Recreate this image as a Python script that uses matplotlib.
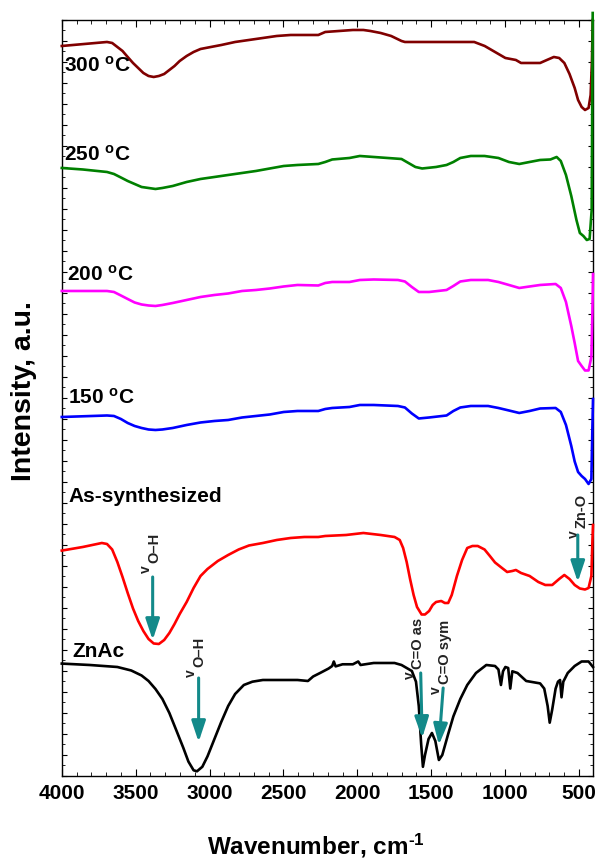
"""FTIR spectra of ZnAc, as-synthesized and annealed ZnO samples."""

import matplotlib

matplotlib.use("Agg")
import matplotlib.pyplot as plt
from matplotlib.ticker import MultipleLocator, NullFormatter

plt.rcParams["font.family"] = ["Liberation Sans", "DejaVu Sans"]
plt.rcParams["mathtext.fontset"] = "custom"
plt.rcParams["mathtext.rm"] = "Liberation Sans:bold"
plt.rcParams["mathtext.bf"] = "Liberation Sans:bold"
plt.rcParams["mathtext.it"] = "Liberation Sans:bold"

# ---- spectra (wavenumber in cm-1, intensity in a.u., offset as plotted) ----
wn_300 = [4000, 3694, 3659, 3624, 3589, 3554, 3518, 3483, 3448, 3413, 3378, 3343,
          3307, 3272, 3237, 3202, 3155, 3108, 3061, 2991, 2920, 2827, 2733, 2639,
          2545, 2451, 2358, 2264, 2217, 2123, 2030, 1959, 1912, 1842, 1771, 1701,
          1678, 1467, 1279, 1209, 1138, 1068, 998, 927, 892, 834, 763, 717, 670,
          634, 599, 564, 529, 506, 482, 459, 435, 421, 412, 407]
i_300 = [73.0, 73.4, 73.3, 72.9, 72.5, 71.9, 71.3, 70.8, 70.3, 70.0, 69.9, 70.0,
         70.2, 70.6, 71.0, 71.5, 72.0, 72.4, 72.7, 72.9, 73.1, 73.4, 73.6, 73.8,
         74.0, 74.1, 74.1, 74.1, 74.4, 74.5, 74.6, 74.6, 74.5, 74.3, 74.0, 73.5,
         73.4, 73.4, 73.4, 73.4, 73.0, 72.4, 71.8, 71.6, 71.3, 71.3, 71.3, 71.6, 71.9,
         71.8, 71.3, 70.2, 68.8, 67.6, 66.9, 66.6, 66.8, 68.1, 71.6, 75.6]

wn_250 = [4000, 3858, 3694, 3647, 3600, 3554, 3507, 3460, 3413, 3366, 3319, 3249,
          3155, 3061, 2967, 2874, 2780, 2686, 2592, 2498, 2405, 2264, 2217, 2170,
          2053, 1983, 1889, 1701, 1654, 1607, 1561, 1467, 1396, 1350, 1303, 1232,
          1139, 1045, 974, 904, 834, 763, 693, 651, 623, 588, 552, 517, 494, 470,
          447, 428, 414, 407]
i_250 = [60.8, 60.65, 60.4, 60.2, 59.85, 59.5, 59.2, 58.9, 58.8, 58.7, 58.8, 59.0,
         59.4, 59.7, 59.9, 60.1, 60.3, 60.5, 60.75, 61.0, 61.1, 61.2, 61.4, 61.65,
         61.8, 62.0, 61.9, 61.7, 61.3, 60.9, 60.75, 60.9, 61.1, 61.4, 61.8, 62.0,
         62.0, 61.8, 61.4, 61.2, 61.4, 61.6, 61.65, 61.9, 61.5, 60.1, 58.0, 55.6,
         54.3, 54.0, 53.6, 53.7, 56.6, 76.3]

wn_200 = [4000, 3694, 3647, 3600, 3554, 3507, 3460, 3413, 3366, 3319, 3249, 3155,
          3061, 2967, 2874, 2780, 2686, 2592, 2498, 2405, 2264, 2217, 2170, 2053,
          1983, 1889, 1725, 1678, 1631, 1584, 1514, 1396, 1350, 1303, 1232, 1115,
          1045, 974, 904, 834, 763, 658, 623, 588, 552, 529, 506, 482, 459, 435,
          416, 409, 405]
i_200 = [48.5, 48.5, 48.4, 48.05, 47.7, 47.35, 47.15, 47.05, 47.0, 47.1, 47.3, 47.6,
         47.9, 48.1, 48.25, 48.5, 48.6, 48.75, 48.95, 49.1, 49.05, 49.3, 49.4, 49.4,
         49.6, 49.65, 49.6, 49.45, 48.9, 48.4, 48.4, 48.6, 49.0, 49.45, 49.6, 49.6,
         49.4, 49.1, 48.8, 48.95, 49.1, 49.2, 48.8, 47.4, 45.0, 43.3, 41.5, 41.0,
         40.55, 40.55, 41.9, 46.4, 50.2]

wn_150 = [4000, 3694, 3647, 3600, 3554, 3507, 3460, 3413, 3366, 3319, 3249, 3155,
          3061, 2967, 2874, 2780, 2686, 2592, 2498, 2405, 2264, 2217, 2170, 2053,
          1983, 1889, 1725, 1678, 1631, 1584, 1514, 1396, 1350, 1303, 1232, 1115,
          1045, 974, 904, 834, 763, 658, 623, 588, 552, 529, 506, 482, 459, 435,
          416, 409, 405]
i_150 = [35.9, 36.05, 36.0, 35.7, 35.3, 35.0, 34.8, 34.65, 34.6, 34.65, 34.8, 35.1,
         35.35, 35.5, 35.6, 35.85, 36.0, 36.15, 36.4, 36.5, 36.5, 36.7, 36.8, 36.9,
         37.1, 37.1, 37.0, 36.85, 36.25, 35.75, 35.85, 36.05, 36.5, 36.85, 37.0, 37.0,
         36.8, 36.55, 36.3, 36.5, 36.75, 36.8, 36.4, 35.1, 33.0, 31.45, 30.4, 30.0,
         29.7, 29.2, 29.7, 34.9, 37.7]

wn_as = [4000, 3858, 3729, 3694, 3659, 3624, 3589, 3554, 3518, 3483, 3448, 3413,
         3378, 3343, 3307, 3272, 3237, 3202, 3155, 3108, 3061, 3014, 2944, 2874,
         2803, 2733, 2639, 2545, 2451, 2358, 2264, 2217, 2076, 1959, 1842, 1748,
         1713, 1690, 1666, 1643, 1619, 1596, 1565, 1542, 1514, 1490, 1467, 1432,
         1408, 1385, 1361, 1326, 1291, 1256, 1221, 1185, 1139, 1103, 1068, 1021,
         986, 951, 927, 892, 834, 775, 728, 681, 634, 599, 564, 529, 494, 459, 435,
         416, 409, 405]
i_as = [22.54, 22.9, 23.3, 23.2, 22.65, 21.4, 19.9, 18.3, 16.75, 15.5, 14.5, 13.7,
        13.25, 13.2, 13.6, 14.3, 15.2, 16.2, 17.4, 18.8, 20.0, 20.7, 21.5, 22.1,
        22.65, 23.05, 23.3, 23.6, 23.8, 23.9, 23.9, 24.0, 24.1, 24.3, 24.1, 23.9,
        23.6, 22.8, 21.4, 19.7, 18.1, 16.9, 16.15, 16.15, 16.5, 17.1, 17.4, 17.5,
        17.3, 17.3, 18.1, 20.0, 21.6, 22.8, 23.0, 23.0, 22.65, 22.0, 21.35, 20.8,
        20.4, 20.5, 20.6, 20.3, 20.0, 19.4, 19.1, 19.1, 19.7, 20.1, 19.7, 19.1,
        18.75, 18.65, 18.8, 20.0, 23.5, 25.1]

wn_znac = [4000, 3811, 3624, 3530, 3460, 3413, 3366, 3319, 3272, 3225, 3178, 3143,
           3108, 3085, 3049, 3014, 2967, 2921, 2874, 2827, 2768, 2710, 2639, 2498,
           2405, 2334, 2299, 2252, 2194, 2170, 2159, 2147, 2100, 2030, 1994, 1978,
           1889, 1748, 1701, 1666, 1631, 1603, 1584, 1568, 1556, 1542, 1518, 1495,
           1472, 1448, 1425, 1385, 1350, 1303, 1256, 1197, 1127, 1068, 1045, 1028,
           1014, 998, 979, 965, 951, 916, 857, 763, 735, 712, 698, 681, 658, 642,
           628, 618, 606, 576, 529, 482, 435, 405]
i_znac = [11.24, 11.1, 10.9, 10.55, 10.05, 9.5, 8.7, 7.7, 6.3, 4.57, 2.83, 1.44,
          0.57, 0.47, 0.92, 1.96, 3.7, 5.4, 7.0, 8.2, 9.1, 9.43, 9.6, 9.6,
          9.6, 9.5, 9.95, 10.3, 10.75, 11.0, 11.45, 10.96, 11.17, 11.17, 11.45, 11.1,
          11.3, 11.3, 11.1, 10.8, 10.5, 9.43, 7.0, 3.2, 0.92, 2.1, 3.7, 4.3,
          3.5, 1.6, 2.1, 4.2, 5.96, 7.7, 9.1, 10.3, 11.1, 11.0, 10.65, 9.1,
          10.47, 10.9, 10.8, 8.74, 10.47, 10.3, 9.5, 9.26, 8.74, 7.0, 5.33, 6.65, 8.74, 9.43,
          9.6, 7.87, 9.43, 10.3, 11.0, 11.45, 11.45, 10.9]

series = [
    (wn_300, i_300, "#800000", "300 $^{\\mathbf{o}}$C", 3985, 70.4),
    (wn_250, i_250, "#008000", "250 $^{\\mathbf{o}}$C", 3985, 61.5),
    (wn_200, i_200, "#ff00ff", "200 $^{\\mathbf{o}}$C", 3965, 49.5),
    (wn_150, i_150, "#0000ff", "150 $^{\\mathbf{o}}$C", 3958, 37.2),
    (wn_as, i_as, "#ff0000", "As-synthesized", 3958, 27.4),
    (wn_znac, i_znac, "#000000", "ZnAc", 3927, 11.9),
]

# band assignments: (v anchor wn, v anchor y, subscript, arrow wn start, y start, wn tip, y tip)
bands = [
    (3428, 20.3, "O–H", 3385, 19.9, 3385, 13.6),
    (3128, 9.9, "O–H", 3074, 9.8, 3074, 3.4),
    (1644, 9.7, "C=O as", 1571, 10.3, 1561, 3.8),
    (1465, 8.2, "C=O sym", 1419, 8.8, 1448, 3.1),
    (536, 23.8, "Zn-O", 508, 24.1, 508, 19.4),
]
TEAL = "#138a8a"

fig = plt.figure(figsize=(5.97, 8.65), dpi=100)
ax = fig.add_axes([0.1035, 0.1029, 0.8898, 0.874])

for wn, inten, color, label, lx, ly in series:
    ax.plot(wn, inten, color=color, lw=1.9, clip_on=False, zorder=3,
            solid_joinstyle="round")
    ax.text(lx, ly, label, fontsize=15, fontweight="bold", ha="left", va="baseline")

for vx, vy, sub, ax0, ay0, ax1, ay1 in bands:
    ax.annotate("", xy=(ax1, ay1), xytext=(ax0, ay0),
                arrowprops=dict(arrowstyle="-|>,head_length=0.9,head_width=0.3",
                                mutation_scale=14, lw=2.2, color=TEAL,
                                shrinkA=0, shrinkB=0), zorder=4)
    ax.annotate("v", (vx, vy), ha="center", va="bottom", rotation=90,
                fontsize=10, fontweight="bold", color="#222222")
    ax.annotate(sub, (vx, vy), xytext=(6, 7.5), textcoords="offset points",
                ha="center", va="bottom", rotation=90, fontsize=10.5,
                fontweight="bold", color="#222222")

ax.set_xlim(4000, 405)
ax.set_ylim(0, 75.6)
ax.xaxis.set_major_locator(MultipleLocator(500))
ax.xaxis.set_minor_locator(MultipleLocator(100))
ax.yaxis.set_major_locator(MultipleLocator(2.1))
ax.yaxis.set_minor_locator(MultipleLocator(1.05))
ax.yaxis.set_major_formatter(NullFormatter())
ax.tick_params(axis="x", which="both", direction="in", top=True, bottom=True,
               labelsize=15, pad=6)
ax.tick_params(axis="x", which="major", length=5)
ax.tick_params(axis="x", which="minor", length=3)
ax.tick_params(axis="y", which="both", direction="in", left=True, right=True,
               labelleft=False)
ax.tick_params(axis="y", which="major", length=3.5)
ax.tick_params(axis="y", which="minor", length=2)
for lab in ax.get_xticklabels():
    lab.set_fontweight("bold")
for sp in ax.spines.values():
    sp.set_linewidth(1.0)

ax.set_xlabel("Wavenumber, cm$^{\\text{-1}}$", fontsize=17.5, fontweight="bold")
ax.xaxis.set_label_coords(0.479, -0.074)
ax.set_ylabel("Intensity, a.u.", fontsize=20.5, fontweight="bold")
ax.yaxis.set_label_coords(-0.047, 0.509)

fig.savefig("out.png", dpi=100)
